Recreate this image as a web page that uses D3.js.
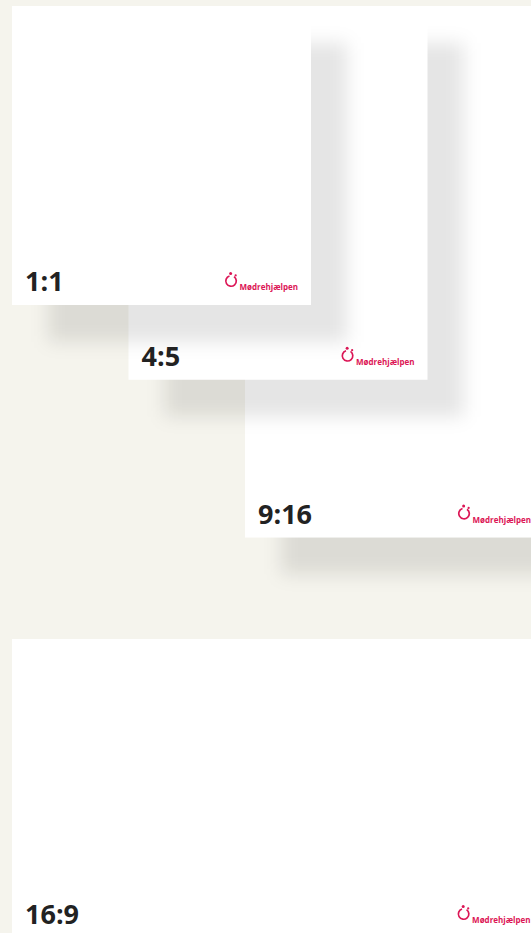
<!DOCTYPE html>
<html>
<head>
<meta charset="utf-8">
<script src="https://cdn.jsdelivr.net/npm/d3@7"></script>
<style>
	html, body { margin: 0; padding: 0; background: #f5f4ed; overflow: hidden; }
	svg { display: block; }
</style>
</head>
<body>
<svg id="plot" width="531" height="933"></svg>
<script>
// format names and their side ratios (width : height)
const RATIO_LABELS = ['1:1', '4:5', '9:16', '16:9'];
const RATIO_W = [1, 4, 9, 16];
const RATIO_H = [1, 5, 16, 9];
const BRAND = 'Mødrehjælpen';

const WIDTH = 531, HEIGHT = 933;
const SHORT_SIDE = 299;   // shortest side of every card, px
const RED = '#dc1656';

function whenDocumentLoaded(action) {
	if (document.readyState === "loading") {
		document.addEventListener("DOMContentLoaded", action);
	} else {
		action();
	}
}

class FormatCards {
	constructor(id) {
		this.svg = d3.select('#' + id);
		this.cards = RATIO_LABELS.map((label, i) => ({
			label: label,
			w: RATIO_W[i],
			h: RATIO_H[i],
			i: i
		}));
	}

	// size of a card: the short side is always SHORT_SIDE px
	size(d) {
		let s = d3.scaleLinear().domain([0, Math.min(d.w, d.h)]).range([0, SHORT_SIDE]);
		return [s(d.w), s(d.h)];
	}

	show() {
		this.svg.append('rect')
			.attr('width', WIDTH).attr('height', HEIGHT)
			.attr('fill', '#f5f4ed');

		let defs = this.svg.append('defs');
		defs.append('filter')
			.attr('id', 'soft')
			.attr('x', '-30%').attr('y', '-30%')
			.attr('width', '160%').attr('height', '160%')
			.append('feGaussianBlur')
			.attr('stdDeviation', 9);

		// the three portrait-ish cards are stacked diagonally, the wide one sits below
		let stackX = d3.scaleLinear().domain([0, 2]).range([12, 245]);
		this.cards.forEach(d => {
			let [w, h] = this.size(d);
			d.pw = w; d.ph = h;
			if (d.w > d.h) { d.x = 12; d.y = 639; }
			else { d.x = stackX(d.i); d.y = 6; }
		});

		// back to front: wide card, then 9:16, 4:5, 1:1
		let order = [3, 2, 1, 0].map(i => this.cards[i]);

		let g = this.svg.selectAll('g.card')
			.data(order)
			.enter()
			.append('g')
			.attr('class', 'card');

		g.append('rect')
			.attr('x', d => d.x + 36)
			.attr('y', d => d.y + 37)
			.attr('width', d => d.pw)
			.attr('height', d => d.ph)
			.attr('fill', 'rgba(20,15,0,0.1)')
			.attr('filter', 'url(#soft)');

		g.append('rect')
			.attr('x', d => d.x)
			.attr('y', d => d.y)
			.attr('width', d => d.pw)
			.attr('height', d => d.ph)
			.attr('fill', '#ffffff');

		// bottom of the wide card is off screen, so anchor its text to the window
		let bottom = d => Math.min(d.y + d.ph, HEIGHT + 20);

		g.append('text')
			.attr('x', d => d.x + 13)
			.attr('y', d => bottom(d) - 14)
			.attr('font-family', '"Open Sans", sans-serif')
			.attr('font-weight', 700)
			.attr('font-size', 27)
			.attr('fill', '#222222')
			.text(d => d.label);

		let logo = g.append('g')
			.attr('transform', d => 'translate(' + Math.min(d.x + d.pw - 13, WIDTH + 1) + ',' + (bottom(d) - 15) + ')');

		let brand = logo.append('text')
			.attr('text-anchor', 'end')
			.attr('font-family', '"Open Sans", sans-serif')
			.attr('font-weight', 700)
			.attr('font-size', 8)
			.attr('fill', RED)
			.text(BRAND);

		let tw = brand.node().getComputedTextLength();
		let icon = logo.append('g')
			.attr('transform', 'translate(' + (-tw - 8.5) + ',-9)');

		icon.append('path')
			.attr('d', d3.arc().innerRadius(4.4).outerRadius(6.1).startAngle(0.6).endAngle(2 * Math.PI - 0.3)())
			.attr('fill', RED);
		icon.append('circle').attr('cx', -0.4).attr('cy', -7.6).attr('r', 1.5).attr('fill', RED);
		icon.append('circle').attr('cx', 4.6).attr('cy', -5.6).attr('r', 1.1).attr('fill', RED);
	}
}

whenDocumentLoaded(() => {
	const plot = new FormatCards('plot');
	plot.show();
});
</script>
</body>
</html>
